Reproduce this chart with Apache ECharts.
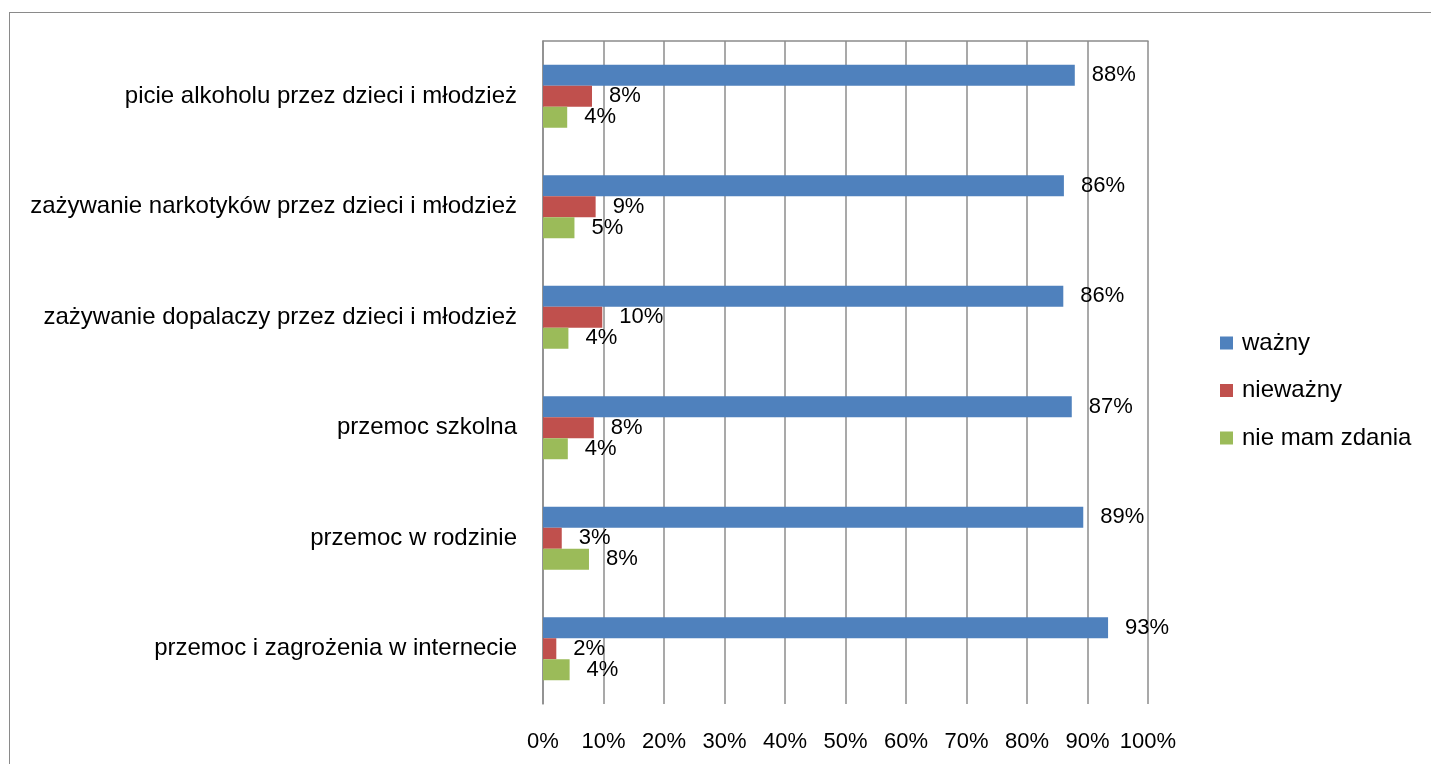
<!DOCTYPE html>
<html>
<head>
<meta charset="utf-8">
<script src="https://cdn.jsdelivr.net/npm/echarts@6/dist/echarts.min.js"></script>
<style>
	html, body { margin: 0; padding: 0; background: #fff; }
	#frame { position: absolute; left: 9px; top: 12px; width: 1440px; height: 780px; border: 1.5px solid #8a8a8a; box-sizing: border-box; }
	#main { position: absolute; left: 0; top: 0; width: 1431px; height: 764px; }
</style>
</head>
<body>
<div id="frame"></div>
<div id="main"></div>
<script>
	// kategorie od góry
	var categories = [
		'picie alkoholu przez dzieci i młodzież',
		'zażywanie narkotyków przez dzieci i młodzież',
		'zażywanie dopalaczy przez dzieci i młodzież',
		'przemoc szkolna',
		'przemoc w rodzinie',
		'przemoc i zagrożenia w internecie'
	];
	var seriesNames = ['ważny', 'nieważny', 'nie mam zdania'];
	var wazny = [87.9, 86.1, 86.0, 87.4, 89.3, 93.4];
	var niewazny = [8.1, 8.7, 9.8, 8.4, 3.1, 2.2];
	var nieMamZdania = [4.0, 5.2, 4.2, 4.1, 7.6, 4.4];
	var xTicks = [0, 10, 20, 30, 40, 50, 60, 70, 80, 90, 100];

	var font = 'Liberation Sans';
	var gridColor = '#8c8c8c';

	function barSeries(name, data, color) {
		return {
			name: name,
			type: 'bar',
			data: data,
			barWidth: 21,
			barGap: '0%',
			itemStyle: { color: color },
			label: {
				show: true,
				position: 'right',
				distance: 17,
				color: '#000',
				fontFamily: font,
				fontSize: 22,
				formatter: function (p) { return Math.round(p.value) + '%'; }
			}
		};
	}

	var chart = echarts.init(document.getElementById('main'));
	var option = {
		animation: false,
		legend: {
			orient: 'vertical',
			left: 1215,
			top: 326,
			itemWidth: 13,
			itemHeight: 13,
			itemGap: 23.5,
			icon: 'rect',
			data: seriesNames,
			textStyle: { color: '#000', fontFamily: font, fontSize: 24, padding: [0, 0, 0, 4] }
		},
		grid: {
			left: 543,
			right: 283,
			top: 41,
			bottom: 60,
			containLabel: false
		},
		xAxis: [{
			type: 'value',
			min: xTicks[0],
			max: xTicks[xTicks.length - 1],
			interval: 10,
			axisLine: { show: false },
			axisTick: { show: false },
			splitLine: { show: true, lineStyle: { color: gridColor, width: 1.5 } },
			axisLabel: {
				color: '#000',
				fontFamily: font,
				fontSize: 22,
				margin: 27,
				formatter: '{value}%'
			}
		}, {
			type: 'value',
			position: 'top',
			min: 0,
			max: 100,
			axisLine: { show: true, lineStyle: { color: gridColor, width: 1.5 } },
			axisTick: { show: false },
			axisLabel: { show: false },
			splitLine: { show: false }
		}],
		yAxis: {
			type: 'category',
			inverse: true,
			data: categories,
			axisLine: { show: true, lineStyle: { color: gridColor, width: 1.5 } },
			axisTick: { show: false },
			axisLabel: {
				color: '#000',
				fontFamily: font,
				fontSize: 24,
				margin: 26
			}
		},
		series: [
			barSeries(seriesNames[0], wazny, '#4F81BD'),
			barSeries(seriesNames[1], niewazny, '#C0504D'),
			barSeries(seriesNames[2], nieMamZdania, '#9BBB59')
		]
	};
	chart.setOption(option);
</script>
</body>
</html>
